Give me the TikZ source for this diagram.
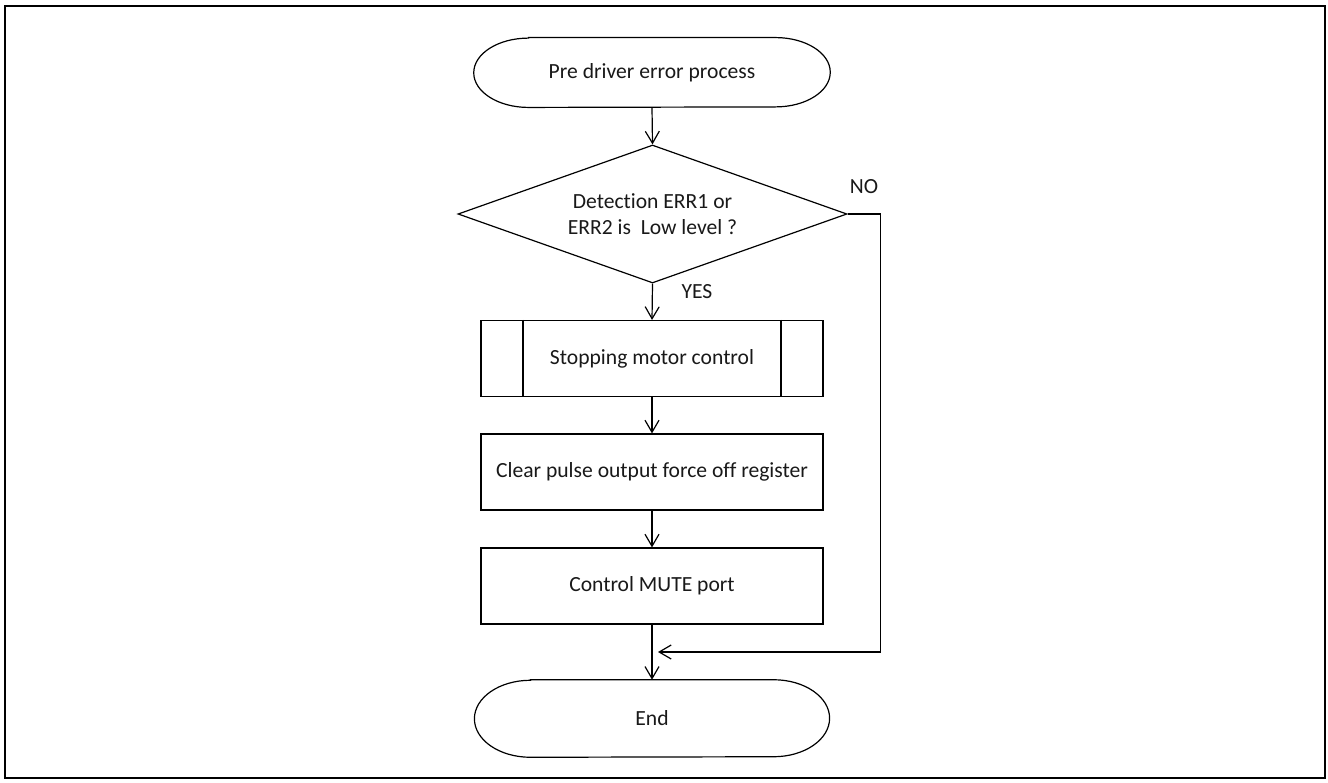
\documentclass[tikz,border=0pt]{standalone}
\usepackage{fontspec}
\setmainfont{Carlito}[Ligatures={NoCommon,NoContextual}]
\usetikzlibrary{shapes.geometric,arrows.meta}
\begin{document}
\begin{tikzpicture}[x=0.75pt,y=-0.75pt,
  every node/.style={font=\fontsize{16.2}{20}\selectfont, text=black!90},
  proc/.style={draw, line width=0.9pt, minimum width=256.5pt, minimum height=57pt, inner sep=0pt},
  termnode/.style={minimum width=267pt, minimum height=52pt, inner sep=0pt},
  dec/.style={draw, line width=0.9pt, shape=diamond, shape aspect=2.82, minimum width=291.75pt, minimum height=103.5pt, inner sep=0pt, align=center},
  lbl/.style={inner sep=0pt},
  arr/.style={line width=0.9pt, -{Straight Barb[length=9pt,width=10.5pt]}},
  frame/.style={line width=1.6pt}]
\useasboundingbox (0,0) rectangle (1328,782);
\draw[frame] (5,6) rectangle (1325,778);

\node[termnode] (s) at (652,72.5) {Pre driver error process};
\node[dec] (d) at (652.5,214) {Detection ERR1 or\\ERR2 is\ \ Low level ?};
\node[proc] (sub) at (652,358.5) {Stopping motor control};
\node[proc] (c) at (652,472) {Clear pulse output force off register};
\node[proc] (m) at (652,586) {Control MUTE port};
\node[termnode, minimum width=266pt, minimum height=57.75pt] (e) at (652,718.5) {End};

% terminal outlines (half-elliptic ends)
\draw[line width=0.9pt] ([xshift=41pt]s.north west) -- ([xshift=-41pt]s.north east)
  arc[start angle=90,end angle=-90,x radius=41pt,y radius=26pt]
  -- ([xshift=41pt]s.south west)
  arc[start angle=270,end angle=90,x radius=41pt,y radius=26pt] -- cycle;
\draw[line width=0.9pt] ([xshift=42pt]e.north west) -- ([xshift=-42pt]e.north east)
  arc[start angle=90,end angle=-90,x radius=42pt,y radius=28.875pt]
  -- ([xshift=42pt]e.south west)
  arc[start angle=270,end angle=90,x radius=42pt,y radius=28.875pt] -- cycle;

% subroutine inner lines
\draw[line width=0.9pt] ([xshift=32pt]sub.north west) -- ([xshift=32pt]sub.south west);
\draw[line width=0.9pt] ([xshift=-32pt]sub.north east) -- ([xshift=-32pt]sub.south east);

\coordinate (j) at (658,652);
\draw[arr] (s.south) -- (d.north);
\draw[arr] (d.south) -- (sub.north);
\draw[arr] (sub.south) -- (c.north);
\draw[arr] (c.south) -- (m.north);
\draw[arr] (m.south) -- (e.north);
\draw[arr] (d.east) -- ++(33,0) |- (j);

\node[lbl] (no) at (864,187) {NO};
\node[lbl] (yes) at (697,292) {YES};
\end{tikzpicture}
\end{document}
